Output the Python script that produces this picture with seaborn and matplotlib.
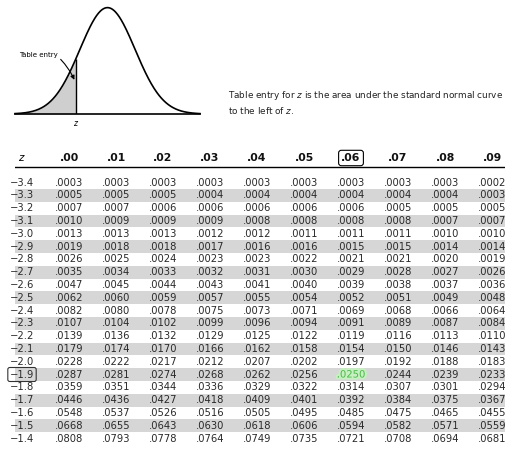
import numpy as np
import pandas as pd
import matplotlib
matplotlib.use("Agg")
import matplotlib.pyplot as plt
import seaborn as sns
from matplotlib.colors import ListedColormap
import matplotlib.patheffects as pe

# table data: rows of z, columns = second decimal place
z_rows = [-3.4, -3.3, -3.2, -3.1, -3.0, -2.9, -2.8, -2.7, -2.6, -2.5, -2.4,
          -2.3, -2.2, -2.1, -2.0, -1.9, -1.8, -1.7, -1.6, -1.5, -1.4]
col_labels = [".00", ".01", ".02", ".03", ".04", ".05", ".06", ".07", ".08", ".09"]

p00 = [.0003, .0005, .0007, .0010, .0013, .0019, .0026, .0035, .0047, .0062, .0082,
       .0107, .0139, .0179, .0228, .0287, .0359, .0446, .0548, .0668, .0808]
p01 = [.0003, .0005, .0007, .0009, .0013, .0018, .0025, .0034, .0045, .0060, .0080,
       .0104, .0136, .0174, .0222, .0281, .0351, .0436, .0537, .0655, .0793]
p02 = [.0003, .0005, .0006, .0009, .0013, .0018, .0024, .0033, .0044, .0059, .0078,
       .0102, .0132, .0170, .0217, .0274, .0344, .0427, .0526, .0643, .0778]
p03 = [.0003, .0004, .0006, .0009, .0012, .0017, .0023, .0032, .0043, .0057, .0075,
       .0099, .0129, .0166, .0212, .0268, .0336, .0418, .0516, .0630, .0764]
p04 = [.0003, .0004, .0006, .0008, .0012, .0016, .0023, .0031, .0041, .0055, .0073,
       .0096, .0125, .0162, .0207, .0262, .0329, .0409, .0505, .0618, .0749]
p05 = [.0003, .0004, .0006, .0008, .0011, .0016, .0022, .0030, .0040, .0054, .0071,
       .0094, .0122, .0158, .0202, .0256, .0322, .0401, .0495, .0606, .0735]
p06 = [.0003, .0004, .0006, .0008, .0011, .0015, .0021, .0029, .0039, .0052, .0069,
       .0091, .0119, .0154, .0197, .0250, .0314, .0392, .0485, .0594, .0721]
p07 = [.0003, .0004, .0005, .0008, .0011, .0015, .0021, .0028, .0038, .0051, .0068,
       .0089, .0116, .0150, .0192, .0244, .0307, .0384, .0475, .0582, .0708]
p08 = [.0003, .0004, .0005, .0007, .0010, .0014, .0020, .0027, .0037, .0049, .0066,
       .0087, .0113, .0146, .0188, .0239, .0301, .0375, .0465, .0571, .0694]
p09 = [.0002, .0003, .0005, .0007, .0010, .0014, .0019, .0026, .0036, .0048, .0064,
       .0084, .0110, .0143, .0183, .0233, .0294, .0367, .0455, .0559, .0681]

highlight_z = -1.9
highlight_col = ".06"
z_marked = -1.15  # where the illustration's z line sits

W, H = 509, 451
fig = plt.figure(figsize=(W / 100, H / 100), dpi=100)
fig.patch.set_facecolor("white")


def px_axes(x0, y0, x1, y1):
    return fig.add_axes([x0 / W, 1 - y1 / H, (x1 - x0) / W, (y1 - y0) / H])


# ---- normal curve illustration ----
ax_c = px_axes(15, 6, 200, 114)
xs = np.linspace(-3.35, 3.35, 400)
ys = np.exp(-xs ** 2 / 2) / np.sqrt(2 * np.pi)
left = xs <= z_marked
ax_c.fill_between(xs[left], ys[left], color="#cfcfcf", lw=0)
ax_c.plot(xs, ys, color="black", lw=1.2, clip_on=False)
ax_c.axhline(0, color="black", lw=1.2, clip_on=False)
ax_c.vlines(z_marked, 0, np.exp(-z_marked ** 2 / 2) / np.sqrt(2 * np.pi),
            color="black", lw=1.0)
ax_c.set_xlim(-3.35, 3.35)
ax_c.set_ylim(0, 0.405)
ax_c.axis("off")
ax_c.text(z_marked, -0.02, "$z$", ha="center", va="top", fontsize=5.5)
ax_c.annotate("Table entry", xy=(-1.2, 0.128), xytext=(-3.2, 0.222),
              ha="left", va="center", fontsize=5,
              arrowprops=dict(arrowstyle="-|>", lw=0.8, color="black",
                              mutation_scale=6, shrinkA=0, shrinkB=0,
                              relpos=(1.0, 0.2),
                              connectionstyle="arc3,rad=-0.1"))

fig.text(228 / W, 1 - 96 / H,
         "Table entry for $z$ is the area under the standard normal curve",
         fontsize=6.4, va="center", ha="left", color="#222222")
fig.text(228 / W, 1 - 111 / H, "to the left of $z$.",
         fontsize=6.4, va="center", ha="left", color="#222222")

# ---- table ----
cols = [p00, p01, p02, p03, p04, p05, p06, p07, p08, p09]
labels = pd.DataFrame({lab: [f"{v:.4f}"[1:] for v in c] for lab, c in zip(col_labels, cols)})
labels.insert(0, "z", [f"{z:.1f}".replace("-", "\u2212") for z in z_rows])
shade = pd.DataFrame(np.array([[i % 2] * labels.shape[1] for i in range(len(z_rows))]),
                     columns=labels.columns)

row0, row_h = 176.1, 12.8
col0, col_w = -1.5, 47.0
top_px, bot_px = 148, row0 + row_h * len(z_rows)
ax = px_axes(15, top_px, 505, bot_px)
sns.heatmap(shade, annot=labels, fmt="", cmap=ListedColormap(["white", "#d6d6d6"]),
            cbar=False, xticklabels=False, yticklabels=False, linewidths=0,
            annot_kws={"fontsize": 7.2, "color": "#2a2a2a"}, ax=ax)
ax.set_xlim((15 - col0) / col_w, (505 - col0) / col_w)
ax.set_ylim(len(z_rows), (top_px - row0) / row_h)

head_y = (158 - row0) / row_h
ax.axhline((167 - row0) / row_h, color="black", lw=1.0)
ax.text(0.5, head_y, "$z$", ha="center", va="center", fontsize=7.5)
for j, lab in enumerate(col_labels):
    t = ax.text(j + 1.5, head_y, lab, ha="center", va="center",
                fontsize=7.8, fontweight="bold", color="#111111")
    if lab == highlight_col:
        t.set_bbox(dict(boxstyle="round,pad=0.25", fc="none", ec="black", lw=0.8))

hz = f"{highlight_z:.1f}".replace("-", "\u2212")
for t in ax.texts:
    t.set_clip_on(False)
    if t.get_text() == hz:
        t.set_bbox(dict(boxstyle="round,pad=0.2", fc="none", ec="#333333", lw=0.8))
    if t.get_text() == ".0250":
        t.set_color("#4cb84c")
        t.set_path_effects([pe.withStroke(linewidth=3, foreground="#c6f0c0")])

fig.savefig("out.png", dpi=100, facecolor="white")
